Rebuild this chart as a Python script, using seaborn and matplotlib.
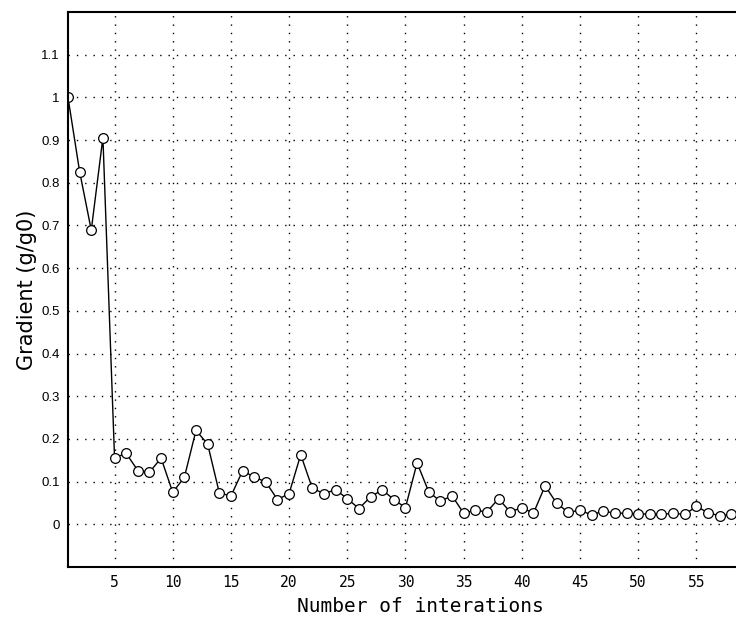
"""Gradient norm convergence over iterations."""

import matplotlib

matplotlib.use("Agg")
import matplotlib.pyplot as plt
import numpy as np
import pandas as pd
import seaborn as sns

ITERATIONS = list(range(1, 59))
GRADIENT = [
    1.000, 0.826, 0.689, 0.906, 0.156, 0.166, 0.126, 0.122, 0.155, 0.075,
    0.110, 0.220, 0.188, 0.074, 0.066, 0.125, 0.111, 0.099, 0.058, 0.072,
    0.163, 0.084, 0.072, 0.081, 0.060, 0.037, 0.064, 0.081, 0.058, 0.039,
    0.144, 0.076, 0.054, 0.067, 0.026, 0.033, 0.029, 0.060, 0.029, 0.039,
    0.026, 0.090, 0.049, 0.028, 0.033, 0.022, 0.031, 0.026, 0.026, 0.023,
    0.025, 0.023, 0.026, 0.023, 0.042, 0.027, 0.020, 0.023,
]
X_TICKS = [5, 10, 15, 20, 25, 30, 35, 40, 45, 50, 55]
Y_TICKS = [0, 0.1, 0.2, 0.3, 0.4, 0.5, 0.6, 0.7, 0.8, 0.9, 1.0, 1.1]
Y_TICK_LABELS = ["0", "0.1", "0.2", "0.3", "0.4", "0.5", "0.6", "0.7",
                 "0.8", "0.9", "1", "1.1"]

sns.set_style("white")
plt.rcParams["font.family"] = ["DejaVu Sans"]
plt.rcParams["text.color"] = "black"
plt.rcParams["axes.labelcolor"] = "black"
plt.rcParams["xtick.color"] = "black"
plt.rcParams["ytick.color"] = "black"

df = pd.DataFrame({"iteration": ITERATIONS, "gradient": GRADIENT})

# the original plot runs past the right edge of the picture, so the axes do too
fig = plt.figure(figsize=(7.36, 6.19), dpi=100)
ax = fig.add_axes([68 / 736, 1 - 567 / 619, (772 - 68) / 736, (567 - 12) / 619])

sns.lineplot(
    data=df, x="iteration", y="gradient", ax=ax,
    color="black", linewidth=1.0,
    marker="o", markersize=7, markerfacecolor="white",
    markeredgecolor="black", markeredgewidth=0.9,
)

ax.set_xlim(1, 61.5)
ax.set_ylim(-0.1, 1.2)
ax.set_xticks(X_TICKS)
ax.set_xticklabels([str(t) for t in X_TICKS], fontsize=10.5, family="DejaVu Sans Mono")
ax.set_yticks(Y_TICKS)
ax.set_yticklabels(Y_TICK_LABELS, fontsize=9.5, family="Liberation Sans")
ax.tick_params(axis="both", length=0, pad=6)
ax.grid(True, color="black", linestyle=(0, (1, 5)), linewidth=1.0)

for side in ("left", "top", "bottom", "right"):
    ax.spines[side].set_color("black")
    ax.spines[side].set_linewidth(1.5)

ax.set_xlabel("Number of interations", fontsize=14, family="DejaVu Sans Mono", labelpad=5)
ax.set_ylabel("Gradient (g/g0)", fontsize=15, labelpad=3)

fig.savefig("out.png", dpi=100)
